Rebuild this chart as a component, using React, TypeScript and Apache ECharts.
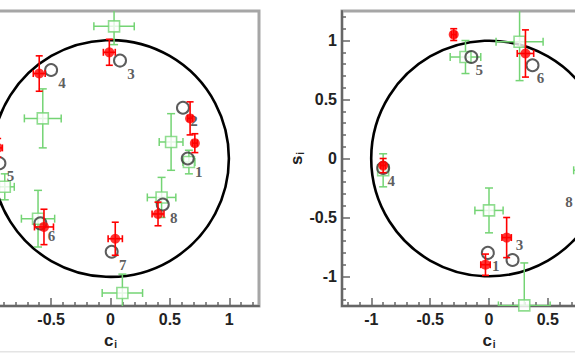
import React, { useEffect, useRef } from 'react';
import * as echarts from 'echarts';

// axis ticks
const majorTicks = [-1, -0.5, 0, 0.5, 1];
const minorTicks = [-1.2, -1.1, -0.9, -0.8, -0.7, -0.6, -0.4, -0.3, -0.2, -0.1, 0.1, 0.2, 0.3, 0.4, 0.6, 0.7, 0.8, 0.9, 1.1, 1.2];
// tick labels visible in the (cropped) reference
const tickLabelsAx = [-0.5, 0, 0.5, 1];
const tickLabelsAy: number[] = [];
const tickLabelsBx = [-1, -0.5, 0, 0.5];
const tickLabelsBy = [-1, -0.5, 0, 0.5, 1];
const axisRange = [-1.25, 1.25];

// unit circle: [cx, cy, r]
const unitCircle = [[0, 0, 1]];

// left panel
const circleNamesA = ['1', '2', '3', '4', '5', '6', '7', '8'];
const circlesA = [
  [0.65, 0.0], [0.61, 0.43], [0.08, 0.83], [-0.5, 0.75],
  [-0.935, -0.04], [-0.59, -0.55], [0.01, -0.79], [0.44, -0.39],
];
// [x, y, xerr, yerr]
const redA = [
  [0.71, 0.13, 0.02, 0.08], [0.67, 0.34, 0.02, 0.14], [-0.01, 0.9, 0.05, 0.11], [-0.6, 0.72, 0.05, 0.15],
  [-0.95, 0.09, 0.04, 0.08], [-0.56, -0.58, 0.08, 0.15], [0.04, -0.68, 0.06, 0.14], [0.4, -0.47, 0.05, 0.1],
];
const greenA = [
  [0.03, 1.12, 0.17, 0.155], [-0.57, 0.34, 0.155, 0.25], [0.51, 0.14, 0.1, 0.24], [0.66, -0.03, 0.05, 0.1],
  [0.43, -0.33, 0.12, 0.17], [-0.61, -0.51, 0.14, 0.24], [0.1, -1.14, 0.17, 0.16], [-0.89, -0.24, 0.08, 0.11],
];

// right panel
const circleNamesB = ['5', '6', '4', '1', '3', '8'];
const circlesB = [
  [-0.15, 0.86], [0.37, 0.79], [-0.9, -0.08], [-0.01, -0.8], [0.2, -0.86], [0.8, -0.3],
];
const redB = [
  [-0.3, 1.05, 0.02, 0.05], [0.31, 0.89, 0.07, 0.2], [-0.9, -0.06, 0.02, 0.06],
  [0.15, -0.67, 0.04, 0.17], [-0.03, -0.9, 0.04, 0.09],
];
const greenB = [
  [-0.2, 0.86, 0.13, 0.14], [0.26, 0.99, 0.2, 0.33], [-0.9, -0.1, 0.03, 0.14],
  [0.0, -0.44, 0.12, 0.19], [0.3, -1.245, 0.22, 0.36], [0.82, -0.1, 0.1, 0.12],
];

const RED = '#ff0000';
const GREEN = '#74d474';
const DARK = '#333333';
const SANS = '"Liberation Sans", Arial, sans-serif';
const SERIF = '"Liberation Serif", "Times New Roman", serif';

// the chart canvas is wider than the page and shifted left, so both panels are cropped like the reference
const SHIFT = 60;
const CANVAS_W = 720;
const CANVAS_H = 357;

const labelOffsetsB: Record<string, number[]> = { '3': [7, -15], '8': [-14, 8] };

function errRender(color: string, cap: number, width: number) {
  return (params: any, api: any) => {
    const x = api.value(0), y = api.value(1), ex = api.value(2), ey = api.value(3);
    const l = api.coord([x - ex, y]);
    const r = api.coord([x + ex, y]);
    const t = api.coord([x, y + ey]);
    const b = api.coord([x, y - ey]);
    const style = { stroke: color, lineWidth: width, fill: 'none' };
    return {
      type: 'group',
      children: [
        { type: 'line', shape: { x1: l[0], y1: l[1], x2: r[0], y2: r[1] }, style },
        { type: 'line', shape: { x1: t[0], y1: t[1], x2: b[0], y2: b[1] }, style },
        { type: 'line', shape: { x1: l[0], y1: l[1] - cap, x2: l[0], y2: l[1] + cap }, style },
        { type: 'line', shape: { x1: r[0], y1: r[1] - cap, x2: r[0], y2: r[1] + cap }, style },
        { type: 'line', shape: { x1: t[0] - cap, y1: t[1], x2: t[0] + cap, y2: t[1] }, style },
        { type: 'line', shape: { x1: b[0] - cap, y1: b[1], x2: b[0] + cap, y2: b[1] }, style },
      ],
    };
  };
}

function circleRender(params: any, api: any) {
  const c = api.coord([api.value(0), api.value(1)]);
  const s = api.size([api.value(2), api.value(2)]);
  return {
    type: 'circle',
    shape: { cx: c[0], cy: c[1], r: (s[0] + s[1]) / 2 },
    style: { stroke: '#000', lineWidth: 2.6, fill: 'none' },
  };
}

function nameRich() {
  return {
    rich: {
      a: { fontSize: 17, fontWeight: 'bold', color: '#222', fontFamily: SANS },
      b: { fontSize: 10, fontWeight: 'bold', color: '#222', fontFamily: SANS, padding: [9, 0, 0, 1] },
    },
  };
}

function mainAxis(gridIndex: number, dim: 'x' | 'y', name: string, labels: number[]) {
  return {
    gridIndex,
    type: 'value',
    min: axisRange[0],
    max: axisRange[1],
    position: dim === 'x' ? 'bottom' : 'left',
    axisLine: { show: true, onZero: false, lineStyle: { color: '#666', width: 2 } },
    axisTick: { show: true, inside: true, length: 8, customValues: majorTicks, lineStyle: { color: '#666', width: 1.5 } },
    minorTick: { show: false },
    axisLabel: {
      show: labels.length > 0,
      customValues: labels,
      margin: 5,
      fontSize: 16,
      fontWeight: 'bold',
      color: '#222',
      fontFamily: SANS,
      hideOverlap: false,
    },
    splitLine: { show: false },
    name,
    nameLocation: 'middle',
    nameGap: dim === 'x' ? 22 : 31,
    nameRotate: dim === 'x' ? 0 : 90,
    nameTextStyle: nameRich(),
  };
}

function minorAxis(gridIndex: number, dim: 'x' | 'y') {
  return {
    gridIndex,
    type: 'value',
    min: axisRange[0],
    max: axisRange[1],
    position: dim === 'x' ? 'bottom' : 'left',
    axisLine: { show: false, onZero: false },
    axisTick: { show: true, inside: true, length: 4, customValues: minorTicks, lineStyle: { color: '#666', width: 1.5 } },
    axisLabel: { show: false },
    splitLine: { show: false },
  };
}

function panelSeries(xi: number, yi: number, circles: number[][], names: string[], red: number[][], green: number[][], offset: number[], offsets: Record<string, number[]>) {
  return [
    {
      type: 'custom',
      xAxisIndex: xi, yAxisIndex: yi,
      renderItem: circleRender,
      data: unitCircle,
      encode: { x: 0, y: 1 },
      silent: true,
      z: 2,
    },
    {
      type: 'custom',
      xAxisIndex: xi, yAxisIndex: yi,
      renderItem: errRender(GREEN, 4, 1.5),
      data: green,
      encode: { x: 0, y: 1 },
      clip: true,
      silent: true,
      z: 3,
    },
    {
      type: 'scatter',
      xAxisIndex: xi, yAxisIndex: yi,
      symbol: 'rect',
      symbolSize: 11,
      itemStyle: { color: '#ffffff', borderColor: GREEN, borderWidth: 1.6 },
      data: green.map((d) => [d[0], d[1]]),
      silent: true,
      z: 4,
    },
    {
      type: 'scatter',
      xAxisIndex: xi, yAxisIndex: yi,
      symbol: 'circle',
      symbolSize: 12,
      itemStyle: { color: 'rgba(0,0,0,0)', borderColor: DARK, borderWidth: 2 },
      data: circles.map((d, i) => ({
        value: d,
        name: names[i],
        label: { offset: offsets[names[i]] || offset },
      })),
      label: {
        show: true,
        position: 'inside',
        formatter: '{b}',
        offset,
        fontFamily: SERIF,
        fontSize: 15,
        fontWeight: 'bold',
        color: DARK,
      },
      silent: true,
      z: 5,
    },
    {
      type: 'custom',
      xAxisIndex: xi, yAxisIndex: yi,
      renderItem: errRender(RED, 3.5, 1.6),
      data: red,
      encode: { x: 0, y: 1 },
      clip: true,
      silent: true,
      z: 6,
    },
    {
      type: 'scatter',
      xAxisIndex: xi, yAxisIndex: yi,
      symbol: 'circle',
      symbolSize: 10,
      itemStyle: { color: RED },
      data: red.map((d) => [d[0], d[1]]),
      silent: true,
      z: 7,
    },
  ];
}

export default function App() {
  const ref = useRef<HTMLDivElement>(null);
  useEffect(() => {
    if (!ref.current) return;
    const chart = echarts.init(ref.current, undefined, { renderer: 'svg' });
    const gridStyle = {
      show: true,
      borderColor: '#a6a6a6',
      borderWidth: 3,
      backgroundColor: 'transparent',
      containLabel: false,
      outerBoundsMode: 'none',
    };
    chart.setOption({
      animation: false,
      backgroundColor: '#ffffff',
      grid: [
        { ...gridStyle, left: -38 + SHIFT, top: 11, width: 297, height: 295 },
        { ...gridStyle, left: 342 + SHIFT, top: 11, width: 294, height: 295 },
      ],
      xAxis: [
        mainAxis(0, 'x', '{a|c}{b|i}', tickLabelsAx),
        minorAxis(0, 'x'),
        mainAxis(1, 'x', '{a|c}{b|i}', tickLabelsBx),
        minorAxis(1, 'x'),
      ],
      yAxis: [
        mainAxis(0, 'y', '', tickLabelsAy),
        minorAxis(0, 'y'),
        mainAxis(1, 'y', '{a|s}{b|i}', tickLabelsBy),
        minorAxis(1, 'y'),
      ],
      graphic: [
        { type: 'rect', shape: { x: SHIFT, y: 351, width: 575, height: 1.5 }, style: { fill: '#e4e4e4' }, silent: true },
      ],
      series: [
        ...panelSeries(0, 0, circlesA, circleNamesA, redA, greenA, [11, 13], {}),
        ...panelSeries(2, 2, circlesB, circleNamesB, redB, greenB, [8, 13], labelOffsetsB),
      ],
    });
    return () => chart.dispose();
  }, []);
  return (
    <div style={{ position: 'fixed', left: 0, top: 0, width: 575, height: 357, overflow: 'hidden', background: '#fff' }}>
      <div ref={ref} style={{ position: 'absolute', left: -SHIFT, top: 0, width: CANVAS_W, height: CANVAS_H }} />
    </div>
  );
}
